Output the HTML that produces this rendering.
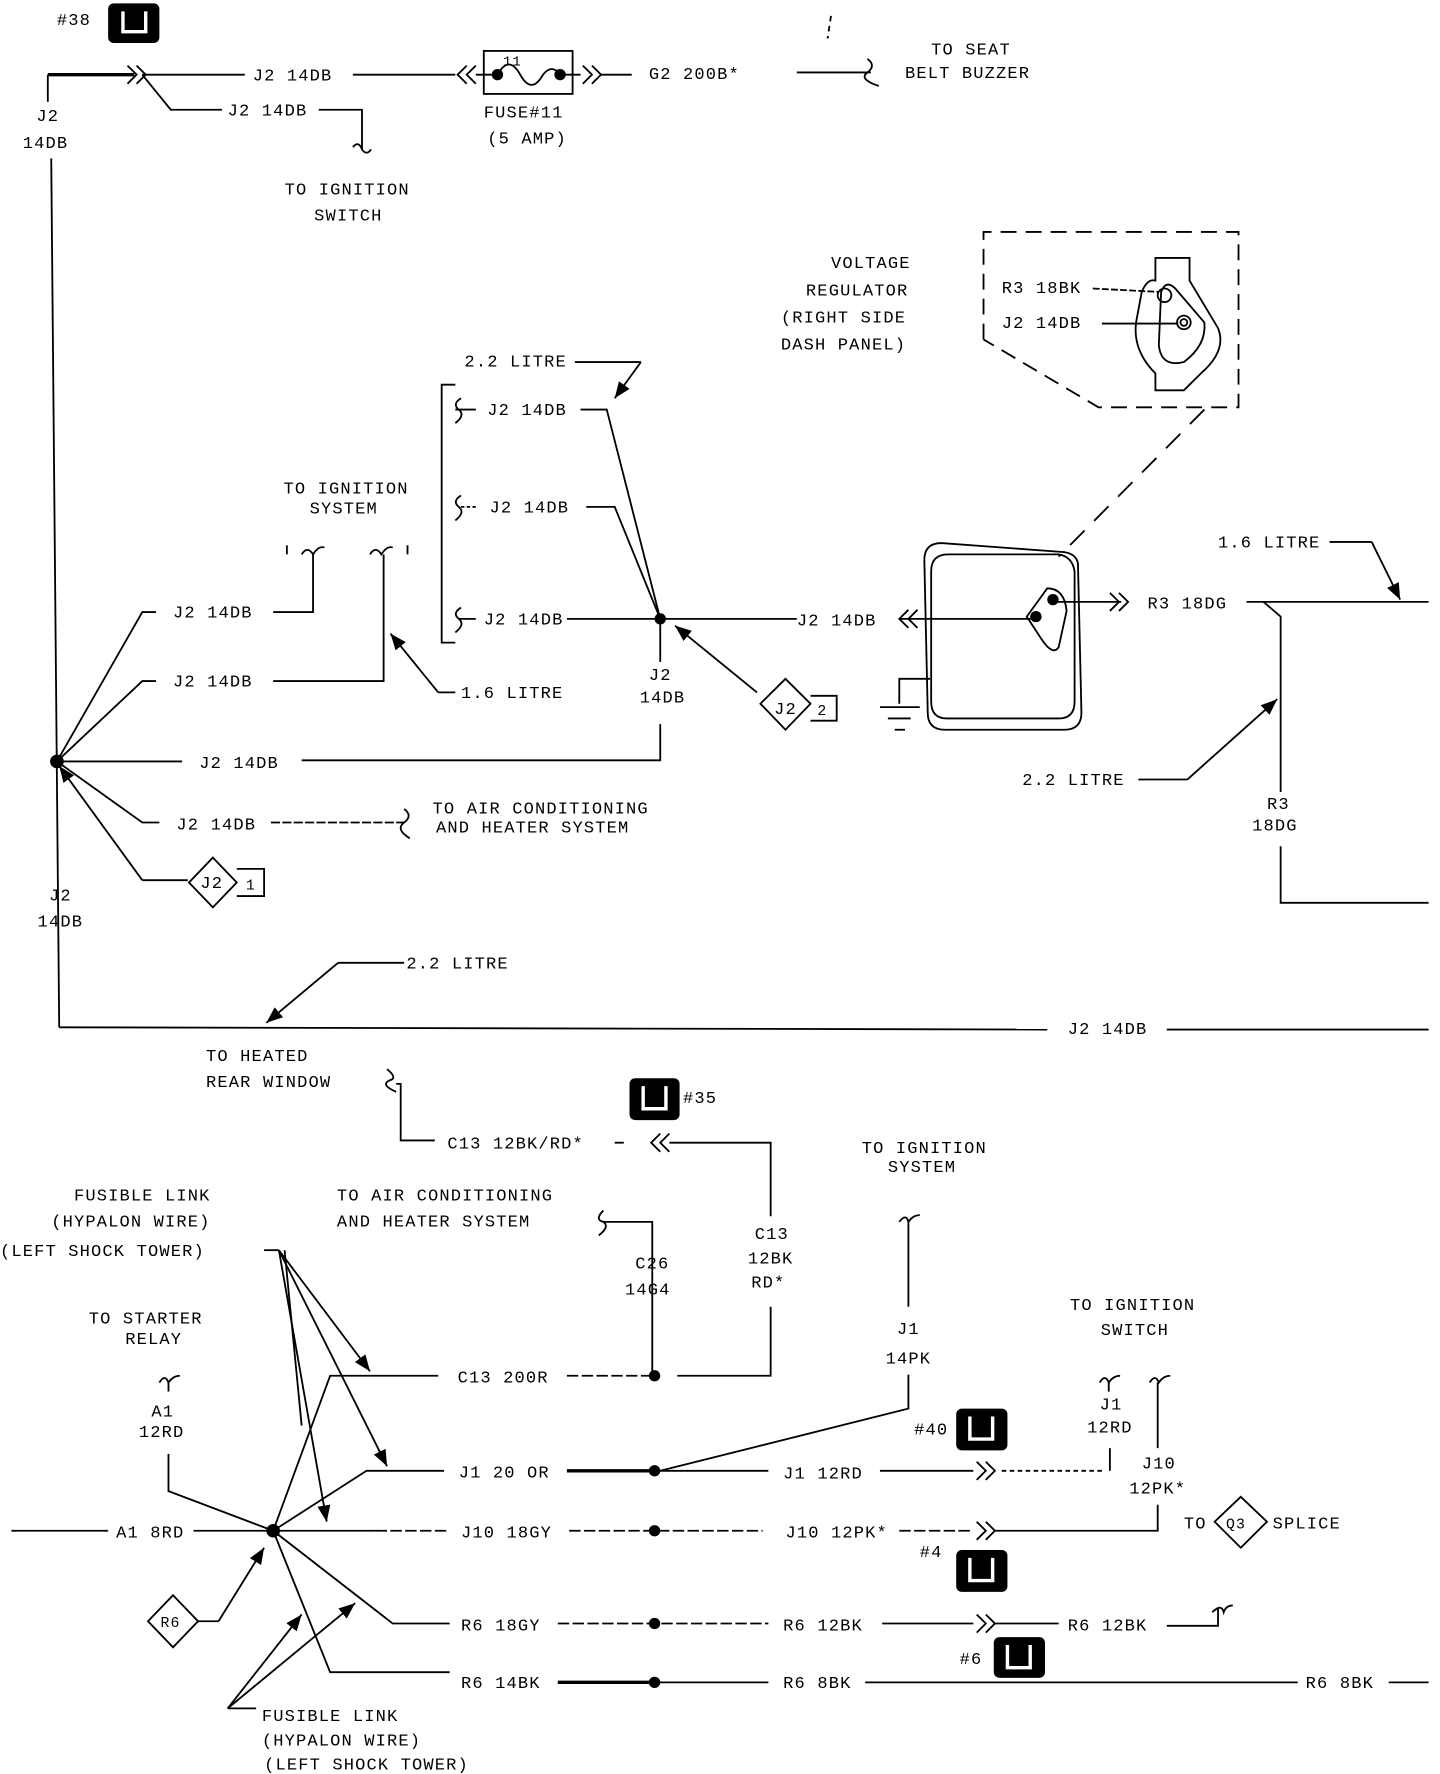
<!DOCTYPE html>
<html><head><meta charset="utf-8"><style>
html,body{margin:0;padding:0;background:#fff}
svg{display:block}
text{font-family:"Liberation Mono","DejaVu Sans Mono",monospace;font-size:15px;fill:#000;letter-spacing:1px}
</style></head><body>
<svg width="1440" height="1774" viewBox="0 0 1265 1568" preserveAspectRatio="none" xmlns="http://www.w3.org/2000/svg">
<defs>
<marker id="ar" viewBox="0 0 10 10" refX="10" refY="5" markerWidth="9" markerHeight="9" orient="auto"><path d="M0,1 L10,5 L0,9 z" fill="#000"/></marker>
</defs>
<g stroke="#000" stroke-width="1.6" fill="none">
<!-- top -->
<line x1="52" y1="908" x2="45" y2="140"/>
<line x1="42" y1="90" x2="42" y2="66"/>
<polyline points="42,66 118,66" stroke-width="3"/>
<path d="M112,58 l8,8 l-8,8 M120,58 l8,8 l-8,8"/>
<line x1="125" y1="66" x2="215" y2="66"/>
<polyline points="125,66 150,97 195,97"/>
<polyline points="280,97 318,97 318,132"/><path d="M310,130 q5,-6 8,2 q4,6 8,0"/>
<line x1="310" y1="66" x2="400" y2="66"/>
<path d="M410,58 l-8,8 l8,8 M418,58 l-8,8 l8,8"/>
<rect x="425" y="45" width="78" height="38"/>
<line x1="418" y1="66" x2="437" y2="66"/><line x1="492" y1="66" x2="510" y2="66"/>
<path d="M437,66 q10,-18 20,0 q10,18 20,0 q8,-10 15,0"/>
<path d="M512,58 l8,8 l-8,8 M520,58 l8,8 l-8,8"/>
<line x1="528" y1="66" x2="555" y2="66"/>
<line x1="700" y1="64" x2="765" y2="64"/><path d="M762,52 q8,6 0,12 q-8,6 10,12"/>
<line x1="730" y1="14" x2="727" y2="34" stroke-dasharray="5,4"/>
<!-- voltage regulator detail -->
<path d="M864,300 L864,205 L1088,205 L1088,360 L965,360 L864,300" stroke-dasharray="14,8"/>
<path d="M1015,228 L1045,228 L1045,248 L1070,290 Q1078,310 1055,330 L1040,345 L1015,345 L1015,330 Q995,310 998,285 L1003,258 Q1008,246 1015,248 Z"/>
<path d="M1020,258 Q1025,245 1035,258 L1058,285 Q1060,305 1040,320 Q1020,325 1018,305 Z"/>
<line x1="960" y1="255" x2="1018" y2="258" stroke-dasharray="6,2"/>
<line x1="968" y1="286" x2="1035" y2="286"/>
<circle cx="1023" cy="261" r="6"/><circle cx="1040" cy="285" r="6"/><circle cx="1040" cy="285" r="3"/>
<line x1="1058" y1="362" x2="930" y2="492" stroke-dasharray="18,12"/>
<path d="M812,495 Q812,480 827,480 L935,488 Q947,490 947,500 L950,630 Q950,645 935,645 L830,645 Q815,645 815,630 Z"/>
<path d="M818,505 Q818,490 833,490 L930,490 Q942,492 944,505 L944,620 Q944,635 930,635 L832,635 Q818,635 818,620 Z"/>
<path d="M920,520 Q935,520 937,540 L930,572 Q925,580 915,565 L902,545 Z"/>
<line x1="790" y1="547" x2="910" y2="547"/>
<path d="M798,539 l-8,8 l8,8 M806,539 l-8,8 l8,8"/>
<line x1="925" y1="532" x2="985" y2="532"/><path d="M975,524 l8,8 l-8,8 M983,524 l8,8 l-8,8"/>
<line x1="1095" y1="532" x2="1255" y2="532"/>
<polyline points="1168,479 1205,479"/><line x1="1205" y1="479" x2="1230" y2="530" marker-end="url(#ar)"/>
<polyline points="1110,532 1125,545 1125,700"/>
<polyline points="1125,748 1125,798 1255,798"/>
<polyline points="1000,689 1043,689"/><line x1="1043" y1="689" x2="1122" y2="618" marker-end="url(#ar)"/>
<polyline points="817,600 790,600 790,622"/>
<line x1="773" y1="625" x2="808" y2="625"/><line x1="780" y1="635" x2="800" y2="635"/><line x1="786" y1="645" x2="795" y2="645"/>
<!-- middle -->
<polyline points="400,340 388,340 388,568 400,568"/>
<path d="M405,352 q-8,5 -2,10 q6,5 -3,12 M405,438 q-8,5 -2,10 q6,5 -3,12 M405,537 q-8,5 -2,10 q6,5 -3,12"/>
<line x1="400" y1="362" x2="418" y2="362"/><line x1="405" y1="448" x2="420" y2="448" stroke-dasharray="3,2"/><line x1="403" y1="547" x2="418" y2="547"/>
<polyline points="510,362 533,362 580,547"/>
<polyline points="515,448 540,448 580,547"/>
<line x1="498" y1="547" x2="700" y2="547"/>
<polyline points="505,320 563,320"/><line x1="563" y1="320" x2="540" y2="352" marker-end="url(#ar)"/>
<line x1="580" y1="547" x2="580" y2="585"/>
<polyline points="580,640 580,672 265,672"/>
<line x1="665" y1="612" x2="593" y2="553" marker-end="url(#ar)"/>
<path d="M690,600 L712,622 L690,645 L668,622 Z"/><polyline points="712,615 735,615 735,637 712,637"/>
<!-- left fan -->
<polyline points="50,673 125,541 137,541"/>
<polyline points="50,673 125,602 137,602"/>
<line x1="50" y1="673" x2="160" y2="673"/>
<polyline points="50,673 125,727 140,727"/>
<polyline points="165,778 125,778"/><line x1="125" y1="778" x2="52" y2="677" marker-end="url(#ar)"/>
<path d="M187,758 L208,780 L187,802 L166,780 Z"/><polyline points="208,768 232,768 232,792 208,792"/>
<polyline points="240,541 275,541 275,490"/><path d="M265,490 q5,-8 10,0 q5,-8 10,-6"/>
<polyline points="240,602 337,602 337,490"/><path d="M325,490 q5,-8 10,0 q5,-8 10,-6"/>
<line x1="252" y1="482" x2="252" y2="490"/><line x1="358" y1="482" x2="358" y2="490"/>
<polyline points="400,612 385,612"/><line x1="385" y1="612" x2="343" y2="560" marker-end="url(#ar)"/>
<line x1="238" y1="727" x2="355" y2="727" stroke-dasharray="8,2"/><path d="M355,715 q8,6 0,12 q-8,6 5,14"/>
<!-- long bottom J2 -->
<line x1="52" y1="908" x2="920" y2="910"/>
<line x1="1025" y1="910" x2="1255" y2="910"/>
<polyline points="355,851 297,851"/><line x1="297" y1="851" x2="234" y2="904" marker-end="url(#ar)"/>
<!-- lower section -->
<path d="M340,945 q10,8 2,10 q-8,4 6,10"/>
<polyline points="348,958 352,958 352,1008 382,1008"/>
<path d="M580,1002 l-8,8 l8,8 M588,1002 l-8,8 l8,8"/>
<polyline points="540,1010 548,1010"/>
<polyline points="588,1010 677,1010 677,1075"/>
<polyline points="677,1155 677,1216 595,1216"/>
<line x1="498" y1="1216" x2="573" y2="1216" stroke-dasharray="10,3"/>
<polyline points="530,1080 573,1080 573,1216" /><path d="M530,1070 q-8,8 0,10 q6,4 -4,12"/>
<path d="M790,1080 q6,-8 8,0 q4,-6 10,-6"/><line x1="798" y1="1080" x2="798" y2="1155"/>
<polyline points="798,1215 798,1245 580,1300"/>
<!-- fusible link arrows -->
<line x1="232" y1="1105" x2="245" y2="1105"/>
<line x1="245" y1="1105" x2="325" y2="1212" marker-end="url(#ar)"/>
<line x1="245" y1="1105" x2="340" y2="1296" marker-end="url(#ar)"/>
<line x1="245" y1="1105" x2="287" y2="1345" marker-end="url(#ar)"/>
<line x1="250" y1="1105" x2="265" y2="1260"/>
<path d="M140,1222 q5,-8 8,0 q4,-6 10,-6"/>
<polyline points="148,1222 148,1230"/>
<polyline points="148,1285 148,1318 240,1353"/>
<line x1="10" y1="1353" x2="95" y2="1353"/>
<line x1="170" y1="1353" x2="330" y2="1353"/>
<line x1="330" y1="1353" x2="395" y2="1353" stroke-dasharray="10,3"/>
<polyline points="240,1353 290,1216 385,1216" />
<polyline points="240,1353 322,1300 390,1300"/>
<polyline points="240,1353 345,1435 395,1435"/>
<polyline points="240,1353 290,1478 395,1478"/>
<line x1="500" y1="1353" x2="670" y2="1353" stroke-dasharray="10,3"/>
<line x1="790" y1="1353" x2="855" y2="1353" stroke-dasharray="10,3"/>
<path d="M858,1345 l8,8 l-8,8 M866,1345 l8,8 l-8,8"/>
<polyline points="874,1353 1017,1353 1017,1330"/>
<line x1="1017" y1="1280" x2="1017" y2="1222"/><path d="M1010,1222 q5,-8 8,0 q4,-6 10,-6"/>
<line x1="498" y1="1300" x2="575" y2="1300" stroke-width="3"/>
<line x1="575" y1="1300" x2="675" y2="1300"/>
<line x1="773" y1="1300" x2="855" y2="1300"/>
<path d="M858,1292 l8,8 l-8,8 M866,1292 l8,8 l-8,8"/>
<line x1="880" y1="1300" x2="970" y2="1300" stroke-dasharray="4,3"/>
<polyline points="975,1300 975,1280"/><path d="M966,1222 q5,-8 8,0 q4,-6 10,-6"/><line x1="974" y1="1222" x2="974" y2="1230"/>
<line x1="490" y1="1435" x2="675" y2="1435" stroke-dasharray="10,3"/>
<line x1="775" y1="1435" x2="855" y2="1435"/>
<path d="M858,1427 l8,8 l-8,8 M866,1427 l8,8 l-8,8"/>
<line x1="874" y1="1435" x2="930" y2="1435"/>
<polyline points="1025,1437 1070,1437 1070,1422"/><path d="M1065,1425 q8,-8 10,0 q2,-6 8,-6"/>
<line x1="490" y1="1487" x2="575" y2="1487" stroke-width="3"/>
<line x1="575" y1="1487" x2="675" y2="1487"/>
<line x1="760" y1="1487" x2="1140" y2="1487"/>
<line x1="1220" y1="1487" x2="1255" y2="1487"/>
<path d="M152,1410 L174,1433 L152,1456 L130,1433 Z"/>
<polyline points="174,1433 192,1433"/><line x1="192" y1="1433" x2="232" y2="1368" marker-end="url(#ar)"/>
<polyline points="225,1510 200,1510"/>
<line x1="200" y1="1510" x2="265" y2="1427" marker-end="url(#ar)"/>
<line x1="200" y1="1510" x2="312" y2="1417" marker-end="url(#ar)"/>
<path d="M1090,1323 L1113,1345 L1090,1368 L1067,1345 Z"/>
</g>
<g fill="#000">
<circle cx="580" cy="547" r="5"/><circle cx="50" cy="673" r="6"/>
<circle cx="437" cy="66" r="5"/><circle cx="492" cy="66" r="5"/>
<circle cx="925" cy="530" r="5"/><circle cx="910" cy="545" r="5"/>
<circle cx="575" cy="1216" r="5"/><circle cx="575" cy="1300" r="5"/><circle cx="575" cy="1353" r="5"/><circle cx="575" cy="1435" r="5"/><circle cx="575" cy="1487" r="5"/>
<circle cx="240" cy="1353" r="6"/>
<rect x="95" y="3" width="45" height="35" rx="5"/>
<rect x="553" y="953" width="44" height="37" rx="5"/>
<rect x="840" y="1245" width="45" height="37" rx="5"/>
<rect x="840" y="1370" width="45" height="37" rx="5"/>
<rect x="873" y="1447" width="45" height="36" rx="5"/>
</g>
<g stroke="#fff" stroke-width="3" fill="none">
<path d="M108,10 v18 h20 v-18"/><path d="M565,960 v20 h20 v-20"/>
<path d="M852,1252 v20 h20 v-20"/><path d="M852,1377 v20 h20 v-20"/><path d="M885,1454 v20 h20 v-20"/>
</g>
<text x="50" y="22">#38</text>
<text x="222" y="71">J2 14DB</text>
<text x="200" y="102">J2 14DB</text>
<text x="32" y="107">J2</text><text x="20" y="131">14DB</text>
<text x="442" y="58" style="font-size:12px">11</text>
<text x="570" y="70">G2 200B*</text>
<text x="425" y="104">FUSE#11</text><text x="428" y="127">(5 AMP)</text>
<text x="818" y="48">TO SEAT</text><text x="795" y="69">BELT BUZZER</text>
<text x="250" y="172">TO IGNITION</text><text x="276" y="195">SWITCH</text>
<text x="730" y="237">VOLTAGE</text><text x="708" y="261">REGULATOR</text><text x="686" y="285">(RIGHT SIDE</text><text x="686" y="309">DASH PANEL)</text>
<text x="880" y="259">R3 18BK</text><text x="880" y="290">J2 14DB</text>
<text x="408" y="324">2.2 LITRE</text>
<text x="428" y="367">J2 14DB</text><text x="430" y="453">J2 14DB</text><text x="425" y="552">J2 14DB</text>
<text x="700" y="553">J2 14DB</text>
<text x="1008" y="538">R3 18DG</text>
<text x="1070" y="484">1.6 LITRE</text>
<text x="898" y="694">2.2 LITRE</text>
<text x="1113" y="715">R3</text><text x="1100" y="734">18DG</text>
<text x="570" y="601">J2</text><text x="562" y="621">14DB</text>
<text x="680" y="631">J2</text><text x="718" y="632" style="font-size:13px">2</text>
<text x="249" y="436">TO IGNITION</text><text x="272" y="454">SYSTEM</text>
<text x="152" y="546">J2 14DB</text><text x="152" y="607">J2 14DB</text>
<text x="405" y="617">1.6 LITRE</text>
<text x="175" y="679">J2 14DB</text>
<text x="155" y="733">J2 14DB</text>
<text x="380" y="719">TO AIR CONDITIONING</text><text x="383" y="736">AND HEATER SYSTEM</text>
<text x="176" y="785">J2</text><text x="216" y="786" style="font-size:13px">1</text>
<text x="43" y="796">J2</text><text x="33" y="819">14DB</text>
<text x="357" y="856">2.2 LITRE</text>
<text x="938" y="914">J2 14DB</text>
<text x="181" y="938">TO HEATED</text><text x="181" y="961">REAR WINDOW</text>
<text x="600" y="975">#35</text>
<text x="393" y="1015">C13 12BK/RD*</text>
<text x="757" y="1019">TO IGNITION</text><text x="780" y="1036">SYSTEM</text>
<text x="65" y="1061">FUSIBLE LINK</text><text x="45" y="1084">(HYPALON WIRE)</text><text x="0" y="1110">(LEFT SHOCK TOWER)</text>
<text x="296" y="1061">TO AIR CONDITIONING</text><text x="296" y="1084">AND HEATER SYSTEM</text>
<text x="663" y="1095">C13</text><text x="657" y="1117">12BK</text><text x="660" y="1138">RD*</text>
<text x="558" y="1121">C26</text><text x="549" y="1144">14G4</text>
<text x="78" y="1170">TO STARTER</text><text x="110" y="1188">RELAY</text>
<text x="788" y="1179">J1</text><text x="778" y="1205">14PK</text>
<text x="940" y="1158">TO IGNITION</text><text x="967" y="1180">SWITCH</text>
<text x="133" y="1252">A1</text><text x="122" y="1270">12RD</text>
<text x="402" y="1222">C13 200R</text>
<text x="966" y="1246">J1</text><text x="955" y="1266">12RD</text>
<text x="803" y="1268">#40</text>
<text x="403" y="1306">J1 20 OR</text>
<text x="688" y="1307">J1 12RD</text>
<text x="1003" y="1298">J10</text><text x="992" y="1320">12PK*</text>
<text x="102" y="1359">A1 8RD</text>
<text x="405" y="1359">J10 18GY</text>
<text x="690" y="1359">J10 12PK*</text>
<text x="1040" y="1351">TO</text><text x="1077" y="1351" style="font-size:13px">Q3</text><text x="1118" y="1351">SPLICE</text>
<text x="808" y="1376">#4</text>
<text x="141" y="1438" style="font-size:13px">R6</text>
<text x="405" y="1441">R6 18GY</text>
<text x="688" y="1441">R6 12BK</text>
<text x="938" y="1441">R6 12BK</text>
<text x="843" y="1471">#6</text>
<text x="405" y="1492">R6 14BK</text>
<text x="688" y="1492">R6 8BK</text>
<text x="1147" y="1492">R6 8BK</text>
<text x="230" y="1521">FUSIBLE LINK</text><text x="230" y="1543">(HYPALON WIRE)</text><text x="232" y="1564">(LEFT SHOCK TOWER)</text>
</svg>
</body></html>
